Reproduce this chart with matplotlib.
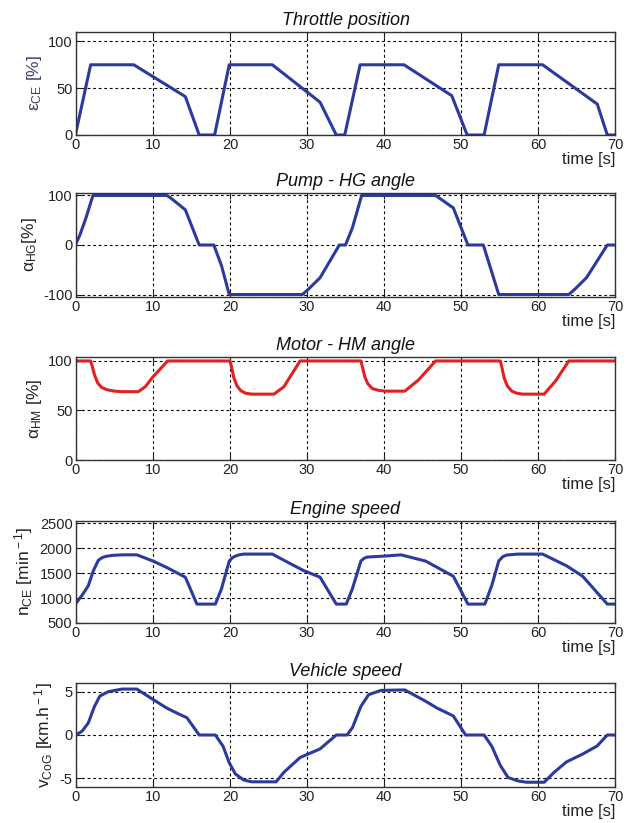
import matplotlib
matplotlib.use("Agg")
import matplotlib.pyplot as plt
from matplotlib import font_manager

names = {f.name for f in font_manager.fontManager.ttflist}
FAM = ['Liberation Sans Narrow', 'Liberation Sans', 'DejaVu Sans'] if 'Liberation Sans Narrow' in names else ['Liberation Sans', 'DejaVu Sans']
plt.rcParams['font.family'] = FAM
plt.rcParams['axes.unicode_minus'] = False
plt.rcParams['mathtext.fontset'] = 'custom'
plt.rcParams['mathtext.rm'] = 'Liberation Sans'
plt.rcParams['mathtext.it'] = 'Liberation Sans:italic'

# ---------------- data ----------------
x_ticks = [0, 10, 20, 30, 40, 50, 60, 70]

titles = ["Throttle position", "Pump - HG angle", "Motor - HM angle", "Engine speed", "Vehicle speed"]
ylabels = [r"ε$_{\rm CE}$ [%]", r"α$_{\rm HG}$[%]", r"α$_{\rm HM}$ [%]",
           r"n$_{\rm CE}$ [min$^{\rm -1}$]", r"v$_{\rm CoG}$ [km.h$^{\rm -1}$]"]

y_ticks_throttle = [0, 50, 100]
y_ticks_pump = [-100, 0, 100]
y_ticks_motor = [0, 50, 100]
y_ticks_engine = [500, 1000, 1500, 2000, 2500]
y_ticks_vehicle = [-5, 0, 5]

t_throttle = [0, 1.9, 7.5, 14.2, 16, 18, 19.9, 25.5, 31.7, 33.8, 34.9, 36.9, 42.6, 48.8, 50.8,
              53, 54.9, 60.6, 67.7, 69, 70]
throttle = [3, 75, 75, 41, 0, 0, 75, 75, 35, 0, 0, 75, 75, 42, 0,
            0, 75, 75, 33, 0, 0]

t_pump = [0, 0.5, 1.3, 2.2, 11.8, 12.3, 14.2, 16, 17.9, 18.9, 19.9, 29.4, 30.2, 31.7, 34.2, 35,
          35.9, 37.1, 46.7, 49, 50.9, 52.9, 54.9, 64, 64.8, 66.3, 69, 70]
pump = [3, 20, 55, 100, 100, 95, 71, 0, 0, -42, -100, -100, -89, -66, 0, 0,
        35, 100, 100, 75, 0, 0, -100, -100, -89, -66, 0, 0]

t_motor = [0, 1.9, 2.1, 2.4, 2.8, 3.3, 4, 5, 6, 8.1, 9, 10, 11.9,
           20, 20.2, 20.5, 20.9, 21.4, 22, 22.8, 25.7, 27, 29.1,
           37, 37.2, 37.5, 37.9, 38.5, 39.2, 40.1, 42.7, 44.5, 46.7,
           55.1, 55.3, 55.6, 56, 56.6, 57.2, 58, 60.8, 62.3, 64, 70]
motor = [100, 100, 95, 86, 78, 73.5, 71, 69.5, 69, 69, 74, 84, 100,
         100, 94, 83, 75, 70, 67.5, 66.5, 66.5, 74, 100,
         100, 94, 84, 77, 72, 70.5, 69.5, 69.5, 81, 100,
         100, 94, 83, 75, 69.5, 67.5, 66.5, 66.5, 80, 100, 100]

t_engine = [0, 0.8, 1.6, 2.25, 2.9, 3.4, 3.9, 4.8, 6, 7.9, 10, 11.8, 14.2, 15.7, 18.1, 18.9,
            19.9, 20.3, 20.7, 21.2, 21.8, 25.5, 27.5, 29.6, 31.7, 33.8, 35.1, 35.9, 37, 37.4,
            37.8, 40.1, 42.2, 45.4, 49, 50.9, 53.1, 54, 54.9, 55.4, 55.9, 57.4, 60.6, 63.7,
            65.8, 69, 70]
engine = [900, 1060, 1250, 1550, 1760, 1815, 1840, 1860, 1870, 1870, 1745, 1615, 1420, 880, 880,
          1190, 1745, 1810, 1845, 1870, 1885, 1885, 1720, 1550, 1420, 880, 880, 1190, 1745, 1800,
          1825, 1845, 1870, 1745, 1440, 880, 880, 1255, 1745, 1830, 1865, 1885, 1885, 1650,
          1440, 880, 880]

t_vehicle = [0, 0.8, 1.6, 2.4, 3.1, 4.2, 6, 7.9, 10, 11.8, 13.4, 14.4, 16, 18.1, 19.1, 19.9, 20.7,
             21.8, 22.8, 26, 27, 29.1, 31.7, 33.8, 35.2, 35.9, 37, 38, 39.6, 42.7, 45.4, 46.9,
             49, 50.6, 53, 54, 55.1, 56.1, 57.4, 58.5, 60.8, 62.1, 63.7, 65.8, 67.7, 69, 70]
vehicle = [0, 0.45, 1.4, 3.3, 4.5, 5.0, 5.3, 5.3, 4.1, 3.1, 2.4, 2.0, 0, 0, -1.3, -3.2, -4.5,
           -5.2, -5.4, -5.4, -4.3, -2.6, -1.6, 0, 0, 0.85, 3.3, 4.65, 5.15, 5.2, 3.9, 3.1,
           2.2, 0, 0, -1.3, -3.5, -4.9, -5.3, -5.45, -5.45, -4.3, -3.1, -2.2, -1.25, 0, 0]

series = [(t_throttle, throttle), (t_pump, pump), (t_motor, motor), (t_engine, engine), (t_vehicle, vehicle)]
yticks = [y_ticks_throttle, y_ticks_pump, y_ticks_motor, y_ticks_engine, y_ticks_vehicle]

# ---------------- layout / style ----------------
ylims = [(0, 110), (-105, 105), (0, 104), (500, 2550), (-6, 6)]
colors = ['#2b3a9c', '#2b3a9c', '#e3201f', '#2b3a9c', '#2b3a9c']
W, H = 635, 823
boxes = [(32, 135), (193, 297), (357, 460), (521, 623), (683, 787)]
left_px, right_px = 76, 615

fig = plt.figure(figsize=(W / 100, H / 100), dpi=100)
for i, (top, bot) in enumerate(boxes):
    ax = fig.add_axes([left_px / W, 1 - bot / H, (right_px - left_px) / W, (bot - top) / H])
    t, v = series[i]
    ax.plot(t, v, color=colors[i], lw=2.2, solid_joinstyle='round')
    ax.set_xlim(0, 70)
    ax.set_ylim(*ylims[i])
    ax.set_xticks(x_ticks)
    ax.set_yticks(yticks[i])
    ax.grid(True, color='black', lw=0.8, linestyle=(0, (2.5, 2.5)))
    ax.tick_params(direction='in', top=True, right=True, length=4, labelsize=10.5,
                   colors='#222222', pad=2.5)
    for s in ax.spines.values():
        s.set_linewidth(1.0)
        s.set_color('#333333')
    ax.set_title(titles[i], fontstyle='italic', fontsize=13, pad=5, color='#111111',
                 family=['Liberation Sans', 'DejaVu Sans'])
    ax.set_ylabel(ylabels[i], fontsize=12.5, color='#3a3f6a' if i == 0 else '#222222', labelpad=3)
    ax.set_xlabel('time [s]', loc='right', fontsize=12, labelpad=0, color='#222222')

fig.savefig('out.png', dpi=100)
